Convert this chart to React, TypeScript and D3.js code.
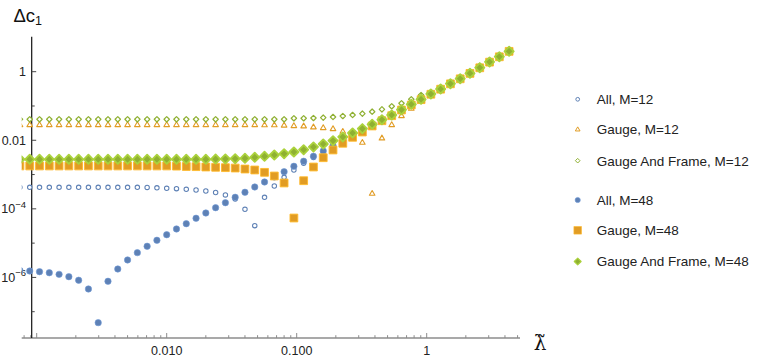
import React from "react";
import * as d3 from "d3";

// lambda-tilde sample points (log-spaced)
const lambda = [
  0.00074325, 0.00088388, 0.00105112, 0.00125, 0.00148651, 0.00176777, 0.00210224, 0.0025,
  0.00297302, 0.00353553, 0.00420448, 0.005, 0.00594604, 0.00707107, 0.00840896, 0.01,
  0.0118921, 0.0141421, 0.0168179, 0.02, 0.0237841, 0.0282843, 0.0336359, 0.04,
  0.0475683, 0.0565685, 0.0672717, 0.08, 0.0951366, 0.113137, 0.134543, 0.16,
  0.190273, 0.226274, 0.269087, 0.32, 0.380546, 0.452548, 0.538174, 0.64,
  0.761093, 0.905097, 1.07635, 1.28, 1.52219, 1.81019, 2.1527, 2.56,
  3.04437, 3.62039, 4.30539,
];

const allM12 = [
  4.25e-4, 4.25e-4, 4.25e-4, 4.25e-4, 4.25e-4, 4.25e-4, 4.25e-4, 4.25e-4, 4.25e-4, 4.25e-4,
  4.25e-4, 4.25e-4, 4.25e-4, 4.2e-4, 4.11e-4, 3.98e-4, 3.87e-4, 3.72e-4, 3.55e-4, 3.32e-4,
  3.0e-4, 2.54e-4, 1.94e-4, 9.71e-5, 3.23e-5, 2.17e-4, 4.64e-4, 8.32e-4, 1.36e-3, 2.13e-3,
  3.15e-3, 4.55e-3, 6.59e-3, 0.0097, 0.0157, 0.0212, 0.0287, 0.0392, 0.0538, 0.077,
  0.111, 0.156, 0.222, 0.311, 0.445, 0.622, 0.895, 1.3, 1.91, 2.73, 3.93,
];

const gaugeM12 = [
  0.0279, 0.0279, 0.0279, 0.0279, 0.0279, 0.0279, 0.0279, 0.0279, 0.0279, 0.0279,
  0.0279, 0.0279, 0.0279, 0.0279, 0.0279, 0.0279, 0.0279, 0.0279, 0.0279, 0.0279,
  0.0279, 0.0279, 0.0279, 0.0279, 0.0279, 0.0277, 0.0275, 0.027, 0.0261, 0.0256,
  0.0239, 0.0228, 0.0213, 0.0178, 0.0143, 0.0085, 2.77e-4, 0.0114, 0.0279, 0.051,
  0.0834, 0.14, 0.215, 0.305, 0.44, 0.618, 0.89, 1.3, 1.9, 2.72, 3.92,
];

const gaugeFrameM12 = [
  0.0409, 0.0409, 0.0409, 0.0409, 0.0409, 0.0409, 0.0409, 0.0409, 0.0409, 0.0409,
  0.0409, 0.0409, 0.0409, 0.0409, 0.0409, 0.0409, 0.0409, 0.0409, 0.0409, 0.0409,
  0.0409, 0.0409, 0.0409, 0.0409, 0.0409, 0.0409, 0.0409, 0.0409, 0.0438, 0.0438,
  0.0446, 0.0456, 0.0478, 0.051, 0.0546, 0.0596, 0.0681, 0.08, 0.098, 0.12,
  0.157, 0.209, 0.25, 0.325, 0.45, 0.628, 0.9, 1.31, 1.92, 2.74, 3.94,
];

const allM48 = [
  1.6e-6, 1.54e-6, 1.47e-6, 1.37e-6, 1.23e-6, 1.05e-6, 8.26e-7, 4.6e-7, 4.79e-8, 7.71e-7,
  1.76e-6, 3.23e-6, 5.27e-6, 8.09e-6, 1.21e-5, 1.76e-5, 2.59e-5, 3.69e-5, 5.31e-5, 7.57e-5,
  1.08e-4, 1.51e-4, 2.17e-4, 3.04e-4, 4.34e-4, 6.07e-4, 8.49e-4, 1.21e-3, 1.74e-3, 2.44e-3,
  3.41e-3, 4.87e-3, 6.95e-3, 9.86e-3, 0.0158, 0.0213, 0.0288, 0.0393, 0.054, 0.0772,
  0.111, 0.156, 0.222, 0.311, 0.445, 0.622, 0.895, 1.3, 1.91, 2.73, 3.93,
];

const gaugeM48 = [
  0.00178, 0.00178, 0.00178, 0.00178, 0.00178, 0.00178, 0.00178, 0.00178, 0.00178, 0.00178,
  0.00178, 0.00178, 0.00178, 0.00178, 0.00178, 0.00178, 0.00176, 0.00172, 0.0017, 0.00166,
  0.00163, 0.00159, 0.00155, 0.00145, 0.00136, 0.00116, 0.000908, 0.000568, 0.000054, 0.000662,
  0.00166, 0.0031, 0.00521, 0.00817, 0.0122, 0.0174, 0.0261, 0.0372, 0.0521, 0.0764,
  0.107, 0.153, 0.22, 0.309, 0.443, 0.62, 0.892, 1.3, 1.9, 2.72, 3.92,
];

const gaugeFrameM48 = [
  0.00279, 0.00279, 0.00279, 0.00279, 0.00279, 0.00279, 0.00279, 0.00279, 0.00279, 0.00279,
  0.00279, 0.00279, 0.00279, 0.00279, 0.00279, 0.00279, 0.00279, 0.00279, 0.00279, 0.00279,
  0.00283, 0.00285, 0.0029, 0.00298, 0.00319, 0.00341, 0.00372, 0.00406, 0.00455, 0.00531,
  0.00637, 0.00779, 0.00972, 0.01247, 0.0163, 0.0218, 0.0292, 0.0398, 0.0546, 0.078,
  0.112, 0.157, 0.224, 0.313, 0.447, 0.625, 0.898, 1.31, 1.92, 2.74, 3.94,
];

const legendLabels = [
  "All, M=12",
  "Gauge, M=12",
  "Gauge And Frame, M=12",
  "All, M=48",
  "Gauge, M=48",
  "Gauge And Frame, M=48",
];

const xTickValues = [0.01, 0.1, 1];
const xTickLabels = ["0.010", "0.100", "1"];
const yTickValues = [1, 0.01, 1e-4, 1e-6];
const yTickBase = ["1", "0.01", "10", "10"];
const yTickExp = ["", "", "\u22124", "\u22126"];

const BLUE = "#5E81B5";
const ORANGE = "#E19C24";
const GREEN = "#8FB032";

type Shape = "circle" | "triangle" | "diamond" | "square";

function markerPath(shape: Shape, s: number): string {
  switch (shape) {
    case "circle":
      return `M${s},0A${s},${s} 0 1,1 ${-s},0A${s},${s} 0 1,1 ${s},0Z`;
    case "square":
      return `M${-s},${-s}H${s}V${s}H${-s}Z`;
    case "diamond":
      return `M0,${-s}L${s},0L0,${s}L${-s},0Z`;
    case "triangle":
      return `M0,${-s}L${s * 0.866},${s * 0.5}L${-s * 0.866},${s * 0.5}Z`;
  }
}

const series = [
  { label: legendLabels[0], data: allM12, color: BLUE, shape: "circle" as Shape, open: true, size: 2.2, sw: 1.1 },
  { label: legendLabels[1], data: gaugeM12, color: ORANGE, shape: "triangle" as Shape, open: true, size: 3.2, sw: 1.1 },
  { label: legendLabels[2], data: gaugeFrameM12, color: GREEN, shape: "diamond" as Shape, open: true, size: 2.7, sw: 1.2 },
  { label: legendLabels[3], data: allM48, color: BLUE, shape: "circle" as Shape, open: false, size: 3.2, sw: 0.6 },
  { label: legendLabels[4], data: gaugeM48, color: ORANGE, shape: "square" as Shape, open: false, size: 3.9, sw: 0.9 },
  { label: legendLabels[5], data: gaugeFrameM48, color: GREEN, shape: "diamond" as Shape, open: false, size: 4.6, sw: 1.8 },
];

function lighten(c: string) {
  const col = d3.color(c)!.brighter(0.5);
  return col.formatHex();
}

export default function App() {
  const W = 763;
  const H = 361;
  const x = d3.scaleLog().domain([1e-3, 1]).range([36.7, 426.7]);
  const y = d3.scaleLog().domain([1, 1e-7]).range([71.7, 311.7]);
  const plotLeft = 21.7;
  const plotRight = 520;
  const axisY = 338;
  const axisX = 31.7;
  const axisTop = 36.7;

  const xMin = x.invert(plotLeft);
  const xMax = x.invert(plotRight);
  const xTicks: { v: number; major: boolean }[] = [];
  for (let e = -4; e <= 1; e++) {
    for (let m = 1; m <= 9; m++) {
      const v = m * Math.pow(10, e);
      if (v >= xMin && v <= xMax) xTicks.push({ v, major: m === 1 });
    }
  }
  const yTicks: { v: number; major: boolean }[] = [];
  for (let e = -7; e <= 0; e++) {
    yTicks.push({ v: Math.pow(10, e), major: e % 2 === 0 });
  }

  const fontSans = "'Liberation Sans', Arial, sans-serif";
  const legendX = 577.7;
  const legendTextX = 596.7;
  const legendY = [99.3, 129.6, 160.7, 200, 230.3, 261.5];

  return (
    <svg
      width={W}
      height={H}
      viewBox={`0 0 ${W} ${H}`}
      style={{ position: "absolute", left: 0, top: 0, background: "#fff" }}
    >
      <defs>
        <clipPath id="plotclip">
          <rect x={plotLeft} y={0} width={plotRight - plotLeft + 10} height={axisY} />
        </clipPath>
      </defs>
      <rect x={0} y={0} width={W} height={H} fill="#fff" />

      {/* x axis */}
      <line x1={plotLeft} x2={plotRight} y1={axisY} y2={axisY} stroke="#8c8c8c" strokeWidth={1.3} />
      {xTicks.map((t, i) => (
        <line
          key={"xt" + i}
          x1={x(t.v)}
          x2={x(t.v)}
          y1={axisY}
          y2={axisY - (t.major ? 5 : 2.8)}
          stroke="#8c8c8c"
          strokeWidth={1}
        />
      ))}
      {xTickValues.map((v, i) => (
        <text
          key={"xl" + i}
          x={x(v)}
          y={355}
          textAnchor="middle"
          fontFamily={fontSans}
          fontSize={12.5}
          fill="#222"
        >
          {xTickLabels[i]}
        </text>
      ))}

      {/* y axis */}
      <line x1={axisX} x2={axisX} y1={axisTop} y2={axisY} stroke="#111" strokeWidth={1.2} />
      {yTicks.map((t, i) => (
        <line
          key={"yt" + i}
          x1={axisX}
          x2={axisX + (t.major ? 4.5 : 3)}
          y1={y(t.v)}
          y2={y(t.v)}
          stroke="#444"
          strokeWidth={1}
        />
      ))}
      {yTickValues.map((v, i) => (
        <text
          key={"yl" + i}
          x={26}
          y={y(v) + 4.5}
          textAnchor="end"
          fontFamily={fontSans}
          fontSize={12.5}
          fill="#222"
        >
          {yTickBase[i]}
          {yTickExp[i] ? (
            <tspan fontSize={9.5} dy={-5.5}>
              {yTickExp[i]}
            </tspan>
          ) : null}
        </text>
      ))}

      {/* axis labels */}
      <text x={13.5} y={21.7} fontFamily={fontSans} fontSize={18.5} fill="#111">
        Δc
        <tspan fontSize={12.5} dy={3.5}>
          1
        </tspan>
      </text>
      <text
        x={540}
        y={349.5}
        textAnchor="middle"
        fontFamily="'DejaVu Serif', serif"
        fontSize={20}
        fill="#111"
      >
        {"\u03BB\u0303"}
      </text>

      {/* data */}
      <g clipPath="url(#plotclip)">
        {series.map((s, si) => (
          <g key={"s" + si}>
            {s.data.map((v, i) => (
              <path
                key={i}
                d={markerPath(s.shape, s.size)}
                transform={`translate(${x(lambda[i])},${y(v)})`}
                fill={s.open ? "#fff" : s.color}
                stroke={s.open ? s.color : lighten(s.color)}
                strokeWidth={s.sw}
                strokeLinejoin="round"
              />
            ))}
          </g>
        ))}
      </g>

      {/* legend */}
      {series.map((s, si) => (
        <g key={"lg" + si}>
          <path
            d={markerPath(s.shape, s.open ? s.size * 0.85 : s.shape === "diamond" ? 3.4 : s.shape === "circle" ? 2.6 : 3.8)}
            transform={`translate(${legendX},${legendY[si]})`}
            fill={s.open ? "#fff" : s.color}
            stroke={s.open ? s.color : lighten(s.color)}
            strokeWidth={s.open ? 1 : s.shape === "diamond" ? 1.2 : 0.6}
            strokeLinejoin="round"
          />
          <text
            x={legendTextX}
            y={legendY[si]}
            dy="0.36em"
            fontFamily={fontSans}
            fontSize={13.5}
            fill="#222"
          >
            {s.label}
          </text>
        </g>
      ))}
    </svg>
  );
}
